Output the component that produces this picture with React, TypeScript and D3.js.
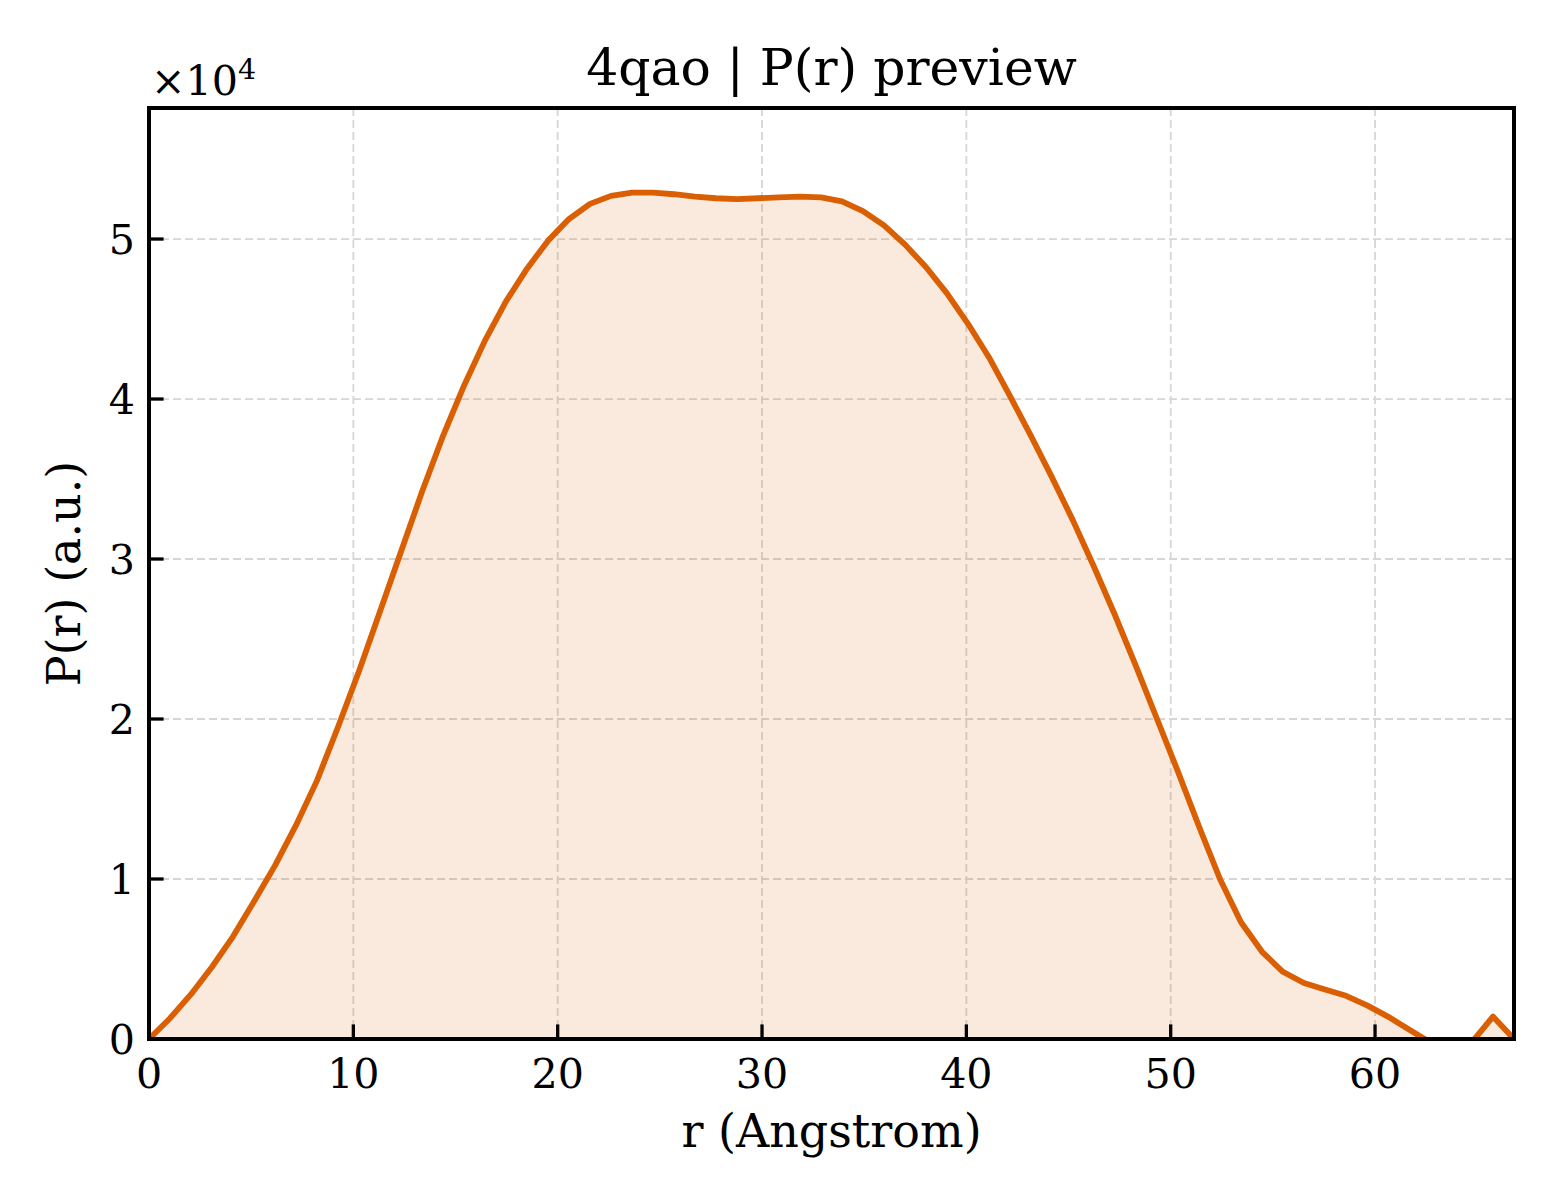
import React from "react";
import * as d3 from "d3";

const rValues = [
  0, 1.03, 2.06, 3.08, 4.11, 5.14, 6.17, 7.19, 8.22, 9.25, 10.28, 11.3, 12.33, 13.36, 14.39, 15.42,
  16.44, 17.47, 18.5, 19.53, 20.55, 21.58, 22.61, 23.64, 24.66, 25.69, 26.72, 27.75, 28.78, 29.8,
  30.83, 31.86, 32.89, 33.91, 34.94, 35.97, 37.0, 38.02, 39.05, 40.08, 41.11, 42.13, 43.16, 44.19,
  45.22, 46.25, 47.27, 48.3, 49.33, 50.36, 51.38, 52.41, 53.44, 54.47, 55.49, 56.52, 57.55, 58.58,
  59.61, 60.63, 61.66, 62.69, 63.72, 64.74, 65.77, 66.8,
];

const pValues = [
  0, 1300, 2800, 4500, 6400, 8600, 10850, 13350, 16150, 19500, 23000, 26700, 30450, 34200, 37700,
  40850, 43650, 46100, 48150, 49900, 51250, 52200, 52700, 52900, 52900, 52800, 52650, 52550, 52500,
  52550, 52600, 52650, 52600, 52350, 51750, 50850, 49650, 48250, 46600, 44700, 42600, 40200, 37700,
  35100, 32400, 29500, 26500, 23300, 20000, 16700, 13300, 10000, 7300, 5450, 4200, 3500, 3100, 2700,
  2100, 1400, 600, -200, -500, -200, 1400, 0,
];

const xTicks = [0, 10, 20, 30, 40, 50, 60];
const yTicks = [0, 10000, 20000, 30000, 40000, 50000];
const yTickLabels = ["0", "1", "2", "3", "4", "5"];

const titleText = "4qao | P(r) preview";
const xLabelText = "r (Angstrom)";
const yLabelText = "P(r) (a.u.)";

export default function App() {
  const W = 1560;
  const H = 1200;
  const left = 149;
  const right = 1514;
  const top = 108;
  const bottom = 1039;

  const data = rValues.map((r, i) => ({ r, p: pValues[i] }));
  const yMax = (d3.max(pValues) as number) * 1.1;

  const x = d3.scaleLinear().domain([0, d3.max(rValues) as number]).range([left, right]);
  const y = d3.scaleLinear().domain([0, yMax]).range([bottom, top]);

  const line = d3
    .line<{ r: number; p: number }>()
    .x((d) => x(d.r))
    .y((d) => y(d.p));
  const area = d3
    .area<{ r: number; p: number }>()
    .x((d) => x(d.r))
    .y0(() => y(0))
    .y1((d) => y(d.p));

  const font = "'DejaVu Serif', serif";
  const orange = "#d95f02";
  const tickLen = 14.6;
  const tickFont = 41.2;

  return (
    <div style={{ position: "absolute", left: 0, top: 0 }}>
      <svg width={W} height={H} viewBox={`0 0 ${W} ${H}`} style={{ display: "block", background: "#fff" }}>
        <defs>
          <clipPath id="plotclip">
            <rect x={left} y={top} width={right - left} height={bottom - top} />
          </clipPath>
        </defs>
        <rect x={0} y={0} width={W} height={H} fill="#fff" />
        {/* grid */}
        <g stroke="#d6d6d6" strokeWidth={1.8} strokeDasharray="8,4">
          {xTicks.map((t) => (
            <line key={"gx" + t} x1={x(t)} x2={x(t)} y1={top} y2={bottom} />
          ))}
          {yTicks.map((t) => (
            <line key={"gy" + t} x1={left} x2={right} y1={y(t)} y2={y(t)} />
          ))}
        </g>
        <g clipPath="url(#plotclip)">
          <path d={area(data) || ""} fill={orange} fillOpacity={0.13} stroke="none" />
          <path
            d={line(data) || ""}
            fill="none"
            stroke={orange}
            strokeWidth={5.8}
            strokeLinejoin="round"
            strokeLinecap="butt"
          />
        </g>
        {/* ticks (inward) */}
        <g stroke="#000" strokeWidth={3.3}>
          {xTicks.map((t) => (
            <line key={"tx" + t} x1={x(t)} x2={x(t)} y1={bottom} y2={bottom - tickLen} />
          ))}
          {yTicks.map((t) => (
            <line key={"ty" + t} x1={left} x2={left + tickLen} y1={y(t)} y2={y(t)} />
          ))}
        </g>
        {/* spines */}
        <rect
          x={left}
          y={top}
          width={right - left}
          height={bottom - top}
          fill="none"
          stroke="#000"
          strokeWidth={4}
        />
        {/* tick labels */}
        <g fontFamily={font} fontSize={tickFont} fill="#000">
          {xTicks.map((t) => (
            <text key={"lx" + t} x={x(t)} y={1088} textAnchor="middle">
              {String(t)}
            </text>
          ))}
          {yTicks.map((t, i) => (
            <text key={"ly" + t} x={135} y={y(t) + 14.8} textAnchor="end">
              {yTickLabels[i]}
            </text>
          ))}
        </g>
        {/* offset text */}
        <text x={151} y={95} fontFamily={font} fontSize={tickFont} fill="#000">
          ×10
          <tspan fontSize={28.5} dy={-16}>
            4
          </tspan>
        </text>
        {/* axis labels */}
        <text x={(left + right) / 2} y={1147} fontFamily={font} fontSize={46} textAnchor="middle" fill="#000">
          {xLabelText}
        </text>
        <text
          transform={`translate(80, ${(top + bottom) / 2}) rotate(-90)`}
          fontFamily={font}
          fontSize={46}
          textAnchor="middle"
          fill="#000"
        >
          {yLabelText}
        </text>
        {/* title */}
        <text x={(left + right) / 2} y={85} fontFamily={font} fontSize={50.4} textAnchor="middle" fill="#000">
          {titleText}
        </text>
      </svg>
    </div>
  );
}
